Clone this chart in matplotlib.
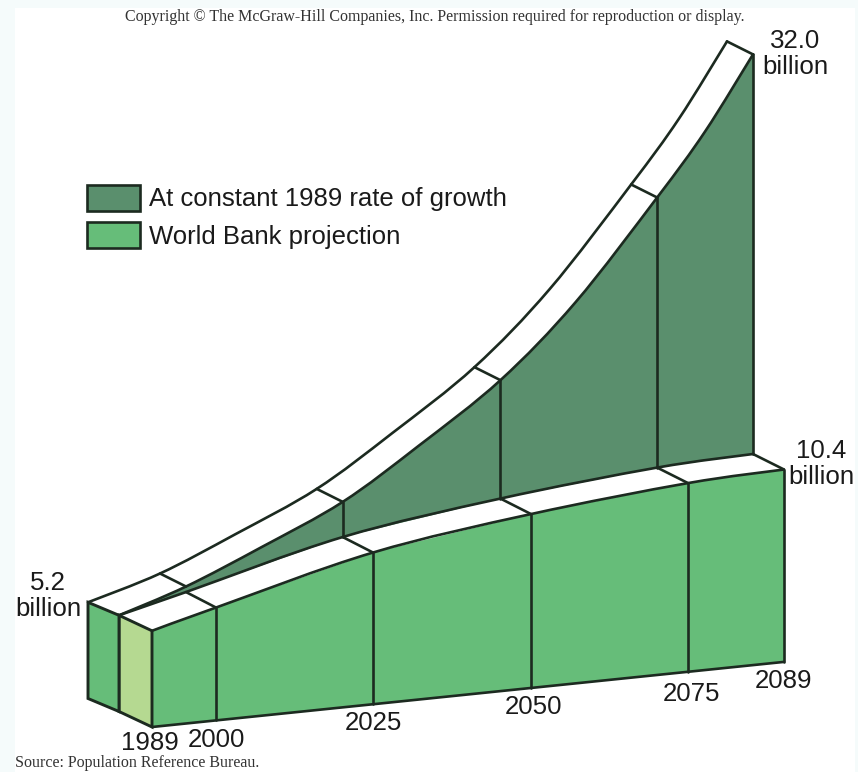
import numpy as np
import matplotlib
matplotlib.use("Agg")
import matplotlib.pyplot as plt
from matplotlib.patches import Patch, Polygon, Rectangle, PathPatch
from matplotlib.path import Path

# ---- data (billions of people) ----
years = [1989, 2000, 2025, 2050, 2075, 2089]
world_bank = [5.2, 6.1, 8.2, 9.4, 10.2, 10.4]
growth_years = [1989, 2000, 2012, 2025, 2037, 2050, 2062, 2075, 2082, 2089]
constant_growth = [5.2, 6.4, 8.1, 10.1, 12.7, 15.8, 19.6, 24.8, 28.1, 32.0]
year_labels = ["1989", "2000", "2025", "2050", "2075", "2089"]
legend_labels = ["At constant 1989 rate of growth", "World Bank projection"]

# ---- oblique projection, in picture pixels ----
YEAR_ANCHOR_X = [152, 216, 373, 531, 688, 784]
PX_PER_BILLION = 18.5
BASE_Y0, BASE_SLOPE = 727, -0.103
DARK, GREEN, LIGHT, INK = "#5a8f6d", "#66bd79", "#b5d991", "#1c2a20"
LW = 1.9


def project(year, value, depth):
    """Map (year, billions, wall depth 0/1/2) to picture coordinates."""
    year = np.asarray(year, float)
    value = np.asarray(value, float)
    x = np.interp(year, years, YEAR_ANCHOR_X)
    y = BASE_Y0 + BASE_SLOPE * (x - YEAR_ANCHOR_X[0]) - PX_PER_BILLION * value
    if depth >= 1:
        x = x - np.interp(year, [1989, 2000, 2089], [33, 30, 31])
        y = y - 15.5
    if depth >= 2:
        x = x - np.interp(year, [1989, 2000, 2089], [31, 26, 26])
        y = y - 13
    return x, y


def smooth_path(x, y, close_with=None):
    """Catmull-Rom path through the projected values."""
    p = np.c_[x, y]
    verts = [p[0]]
    codes = [Path.MOVETO]
    for i in range(len(p) - 1):
        p0 = p[i - 1] if i > 0 else p[i]
        p3 = p[i + 2] if i + 2 < len(p) else p[i + 1]
        c1 = p[i] + (p[i + 1] - p0) / 6
        c2 = p[i + 1] - (p3 - p[i]) / 6
        verts += [c1, c2, p[i + 1]]
        codes += [Path.CURVE4] * 3
    if close_with is not None:
        for q in close_with:
            verts.append(q)
            codes.append(Path.LINETO)
        verts.append(p[0])
        codes.append(Path.CLOSEPOLY)
    return Path(np.array(verts), codes)


plt.rcParams["font.family"] = ["Liberation Sans", "DejaVu Sans"]
fig = plt.figure(figsize=(8.58, 7.72), dpi=100, facecolor="#f5fbfb")
ax = fig.add_axes([0, 0, 1, 1])
ax.set_xlim(0, 858)
ax.set_ylim(772, 0)
ax.axis("off")
ax.add_patch(Rectangle((15, 8), 840, 764, fc="white", ec="none", zorder=0))

zero_y = np.zeros(len(years))

# world-bank front wall
xt, yt = project(years, world_bank, 0)
xb, yb = project(years, zero_y, 0)
ax.add_patch(Polygon(np.r_[np.c_[xt, yt], np.c_[xb, yb][::-1]], closed=True, fc=GREEN, ec="none", zorder=1))

# dark wall between the two projections (world-bank ribbon stays white)
x1w, y1w = project(years, world_bank, 1)
x1g, y1g = project(growth_years, constant_growth, 1)
ax.add_patch(PathPatch(smooth_path(x1g, y1g, close_with=np.c_[x1w, y1w][::-1]), fc=DARK, ec="none", zorder=1))
x2g, y2g = project(growth_years, constant_growth, 2)

# end faces at 1989
e0 = [years[0]]
v0 = [world_bank[0]]
z0 = [0.0]
for d0, d1, col in [(0, 1, LIGHT), (1, 2, GREEN)]:
    a = project(e0, v0, d0)
    b = project(e0, v0, d1)
    c = project(e0, z0, d1)
    d = project(e0, z0, d0)
    quad = np.array([[p[0][0], p[1][0]] for p in (a, b, c, d)])
    ax.add_patch(Polygon(quad, closed=True, fc=col, ec=INK, lw=LW + 0.2, zorder=2))

# ribbon edges
line = dict(color=INK, lw=LW, solid_joinstyle="round", solid_capstyle="round", zorder=3)
for ex, ey in [(xt, yt), (x1w, y1w), (x1g, y1g), (x2g, y2g)]:
    ax.add_patch(PathPatch(smooth_path(ex, ey), fc="none", ec=INK, lw=LW, zorder=3, capstyle="round"))
ax.plot(xb, yb, **line)

# vertical section lines on the front wall
for yr, v in zip(years[1:], world_bank[1:]):
    a = project([yr], [v], 0)
    b = project([yr], [0], 0)
    ax.plot([a[0][0], b[0][0]], [a[1][0], b[1][0]], **line)

# vertical section lines on the dark wall
cg = dict(zip(growth_years, constant_growth))
wb = dict(zip(years, world_bank))
for yr in years[2:]:
    a = project([yr], [cg[yr]], 1)
    b = project([yr], [wb[yr]], 1)
    ax.plot([a[0][0], b[0][0]], [a[1][0], b[1][0]], **line)

# cross ticks on both ribbons
for yr in years[1:]:
    a = project([yr], [wb[yr]], 0)
    b = project([yr], [wb[yr]], 1)
    ax.plot([a[0][0], b[0][0]], [a[1][0], b[1][0]], **line)
    a = project([yr], [cg[yr]], 1)
    b = project([yr], [cg[yr]], 2)
    ax.plot([a[0][0], b[0][0]], [a[1][0], b[1][0]], **line)

# texts
tfs = 18.6
txt = dict(ha="center", va="center", fontsize=tfs, color="#1a1a1a", linespacing=1.08, zorder=5)
ax.text(48, 596, "5.2\nbillion", **txt)
ax.text(795, 54, "32.0\nbillion", **txt)
ax.text(821, 464, "10.4\nbillion", **txt)
label_pos = [(150, 743), (216, 740), (373, 723), (534, 707), (692, 694), (784, 681)]
for s, (lx, ly) in zip(year_labels, label_pos):
    ax.text(lx, ly, s, **txt)

serif = dict(family=["Liberation Serif", "DejaVu Serif"], color="#333333", va="center", zorder=5)
ax.text(434.5, 17, "Copyright © The McGraw-Hill Companies, Inc. Permission required for reproduction or display.",
        ha="center", fontsize=11.5, **serif)
ax.text(15, 763, "Source: Population Reference Bureau.", ha="left", fontsize=11.5, **serif)

handles = [Patch(fc=DARK, ec=INK, lw=LW), Patch(fc=GREEN, ec=INK, lw=LW)]
leg = ax.legend(handles, legend_labels, loc="upper left", bbox_to_anchor=(87 / 858, 1 - 185 / 772),
                frameon=False, fontsize=18.5, handlelength=2.05, handleheight=1.15, handletextpad=0.36,
                labelspacing=0.42, borderpad=0, borderaxespad=0, labelcolor="#1a1a1a")

fig.savefig("out.png", dpi=100, facecolor=fig.get_facecolor())
